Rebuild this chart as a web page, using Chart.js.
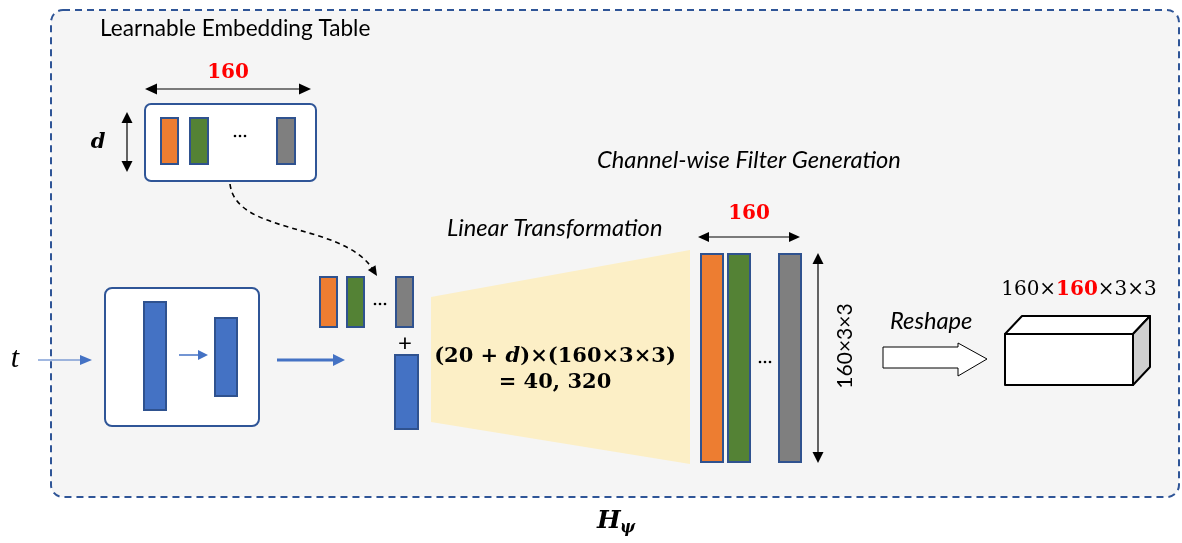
<!DOCTYPE html>
<html>
<head>
<meta charset="utf-8">
<script src="https://cdn.jsdelivr.net/npm/chart.js@4"></script>
<style>
  html, body { margin: 0; padding: 0; background: #ffffff; }
  #wrap { width: 1182px; height: 543px; }
</style>
</head>
<body>
<div id="wrap"><canvas id="diagram" width="1182" height="543"></canvas></div>
<script>
// Texts
const titleTable = 'Learnable Embedding Table';
const titleGen = 'Channel-wise Filter Generation';
const titleLinear = 'Linear Transformation';
const titleReshape = 'Reshape';
const channelCount = '160';
const kernelLabel = '160×3×3';
const formulaTop = [['(20 + ', 'b'], ['d', 'bi'], [')×(160×3×3)', 'b']];
const formulaBottom = '= 40, 320';

// Embedding columns (colour of each channel kept in the table)
const channelNames = ['ch1', 'ch2', '...', 'chN'];
const channelColors = ['#ed7d31', '#548235', null, '#7f7f7f'];

const blue = '#4472c4';
const navy = '#2f5597';
const edge = '#2f528f';

const serif = '"DejaVu Serif", "Liberation Serif", serif';
const sans = 'Lato, "Open Sans", sans-serif';

const diagramPlugin = {
  id: 'diagram',
  beforeDatasetsDraw(chart) {
    const ctx = chart.ctx;
    const sx = chart.scales.x, sy = chart.scales.y;
    const X = v => sx.getPixelForValue(v);
    const Y = v => sy.getPixelForValue(v);

    function rrect(x1, y1, x2, y2, r, fill, stroke, lw, dash) {
      ctx.save();
      ctx.beginPath();
      ctx.roundRect(X(x1), Y(y1), X(x2) - X(x1), Y(y2) - Y(y1), r);
      if (fill) { ctx.fillStyle = fill; ctx.fill(); }
      if (stroke) {
        ctx.setLineDash(dash || []);
        ctx.strokeStyle = stroke; ctx.lineWidth = lw || 1; ctx.stroke();
      }
      ctx.restore();
    }
    function col(x1, y1, x2, y2, fill) {
      rrect(x1, y1, x2, y2, 0, fill, edge, 2);
    }
    function head(x, y, ang, len, wid, color) {
      ctx.save();
      ctx.translate(X(x), Y(y));
      ctx.rotate(ang);
      ctx.beginPath();
      ctx.moveTo(0, 0);
      ctx.lineTo(-len, -wid / 2);
      ctx.lineTo(-len, wid / 2);
      ctx.closePath();
      ctx.fillStyle = color;
      ctx.fill();
      ctx.restore();
    }
    function arrow(x1, y1, x2, y2, color, lw, len, wid, both) {
      const ang = Math.atan2(Y(y2) - Y(y1), X(x2) - X(x1));
      ctx.save();
      ctx.strokeStyle = color; ctx.lineWidth = lw;
      ctx.beginPath();
      ctx.moveTo(X(x1) + (both ? Math.cos(ang) * len * 0.8 : 0), Y(y1) + (both ? Math.sin(ang) * len * 0.8 : 0));
      ctx.lineTo(X(x2) - Math.cos(ang) * len * 0.8, Y(y2) - Math.sin(ang) * len * 0.8);
      ctx.stroke();
      ctx.restore();
      head(x2, y2, ang, len, wid, color);
      if (both) head(x1, y1, ang + Math.PI, len, wid, color);
    }
    function text(str, x, y, font, color, align) {
      ctx.save();
      ctx.font = font; ctx.fillStyle = color || '#000';
      ctx.textAlign = align || 'left'; ctx.textBaseline = 'middle';
      ctx.fillText(str, X(x), Y(y));
      ctx.restore();
    }
    function runs(parts, cx, y, size) {
      ctx.save();
      ctx.textBaseline = 'middle';
      const fonts = parts.map(p => (p[1] === 'bi' ? 'italic bold ' : p[1] === 'b' ? 'bold ' : '') + size + 'px ' + serif);
      let total = 0;
      parts.forEach((p, i) => { ctx.font = fonts[i]; total += ctx.measureText(p[0]).width; });
      let x = X(cx) - total / 2;
      parts.forEach((p, i) => {
        ctx.font = fonts[i]; ctx.fillStyle = p[2] || '#000'; ctx.textAlign = 'left';
        ctx.fillText(p[0], x, Y(y));
        x += ctx.measureText(p[0]).width;
      });
      ctx.restore();
    }
    function dots(cx, cy) {
      ctx.save();
      ctx.fillStyle = '#000';
      [-5, 0, 5].forEach(d => {
        ctx.beginPath();
        ctx.arc(X(cx + d), Y(cy), 1.3, 0, Math.PI * 2);
        ctx.fill();
      });
      ctx.restore();
    }

    // outer dashed frame
    rrect(51, 10, 1179, 497, 12, '#f5f5f5', navy, 2, [7, 5]);

    // learnable embedding table
    text(titleTable, 100, 29, '22.6px ' + sans, '#000');
    text(channelCount, 228, 73, 'bold 20px ' + serif, '#ff0000', 'center');
    arrow(145, 89, 311, 89, '#000', 1.2, 12, 11, true);
    arrow(127, 112, 127, 172, '#000', 1.2, 11, 11, true);
    text('d', 98, 143, 'italic bold 21px ' + serif, '#000', 'center');
    rrect(145, 104, 316, 181, 6, '#ffffff', navy, 2);
    const tableCols = [[161, 178], [190, 208], null, [277, 295]];
    channelNames.forEach((n, i) => {
      if (channelColors[i]) col(tableCols[i][0], 118, tableCols[i][1], 164, channelColors[i]);
      else dots(240, 136);
    });

    // dashed lookup curve
    ctx.save();
    ctx.setLineDash([5, 4]);
    ctx.lineWidth = 1.6; ctx.strokeStyle = '#000';
    ctx.beginPath();
    ctx.moveTo(X(230), Y(184));
    ctx.bezierCurveTo(X(236), Y(235), X(340), Y(222), X(372), Y(268));
    ctx.stroke();
    ctx.restore();
    head(377, 276, Math.atan2(8, 5), 10, 9, '#000');

    // time input and encoder
    text('t', 15, 359, 'italic 30px "Liberation Serif", serif', '#000', 'center');
    arrow(38, 360, 92, 360, blue, 1.2, 12, 10);
    rrect(105, 288, 259, 426, 7, '#ffffff', navy, 2);
    col(144, 302, 166, 410, blue);
    col(215, 318, 237, 396, blue);
    arrow(179, 355, 208, 355, blue, 1.5, 10, 10);
    arrow(277, 360, 345, 360, blue, 3, 12, 12);

    // concatenated embedding
    const smallCols = [[320, 337], [347, 364], null, [396, 413]];
    channelNames.forEach((n, i) => {
      if (channelColors[i]) col(smallCols[i][0], 277, smallCols[i][1], 327, channelColors[i]);
      else dots(380, 304);
    });
    text('+', 405, 343, '24px ' + sans, '#000', 'center');
    col(395, 355, 418, 429, blue);

    // linear transformation
    text(titleGen, 597, 160, 'italic 23.7px ' + sans, '#000');
    text(titleLinear, 447, 228, 'italic 23.7px ' + sans, '#000');
    ctx.save();
    ctx.beginPath();
    ctx.moveTo(X(431), Y(297));
    ctx.lineTo(X(690), Y(250));
    ctx.lineTo(X(690), Y(464));
    ctx.lineTo(X(431), Y(422));
    ctx.closePath();
    ctx.fillStyle = '#fcefc6';
    ctx.fill();
    ctx.restore();
    runs(formulaTop, 555, 357, 21);
    runs([[formulaBottom, 'b']], 555, 383, 21);

    // generated filters
    text(channelCount, 749, 214, 'bold 20px ' + serif, '#ff0000', 'center');
    arrow(698, 237, 800, 237, '#000', 1.2, 11, 10, true);
    const bigCols = [[701, 723], [728, 750], null, [779, 801]];
    channelNames.forEach((n, i) => {
      if (channelColors[i]) col(bigCols[i][0], 254, bigCols[i][1], 462, channelColors[i]);
      else dots(765, 362);
    });
    arrow(818, 253, 818, 463, '#000', 1.2, 11, 11, true);
    ctx.save();
    ctx.translate(X(845), Y(346));
    ctx.rotate(-Math.PI / 2);
    ctx.font = '21px ' + sans; ctx.fillStyle = '#000';
    ctx.textAlign = 'center'; ctx.textBaseline = 'middle';
    ctx.fillText(kernelLabel, 0, 0);
    ctx.restore();

    // reshape arrow
    text(titleReshape, 890, 321, 'italic 23.7px ' + sans, '#000');
    ctx.save();
    ctx.beginPath();
    ctx.moveTo(X(883), Y(347));
    ctx.lineTo(X(958), Y(347));
    ctx.lineTo(X(958), Y(343));
    ctx.lineTo(X(987), Y(359));
    ctx.lineTo(X(958), Y(376));
    ctx.lineTo(X(958), Y(368));
    ctx.lineTo(X(883), Y(368));
    ctx.closePath();
    ctx.fillStyle = '#ffffff'; ctx.fill();
    ctx.strokeStyle = '#000'; ctx.lineWidth = 1; ctx.stroke();
    ctx.restore();

    // output tensor box
    function poly(pts, fill) {
      ctx.save();
      ctx.beginPath();
      pts.forEach((p, i) => (i ? ctx.lineTo(X(p[0]), Y(p[1])) : ctx.moveTo(X(p[0]), Y(p[1]))));
      ctx.closePath();
      ctx.fillStyle = fill; ctx.fill();
      ctx.strokeStyle = '#000'; ctx.lineWidth = 2; ctx.lineJoin = 'round'; ctx.stroke();
      ctx.restore();
    }
    poly([[1005, 334], [1022, 316], [1150, 316], [1133, 334]], '#ffffff');
    poly([[1133, 334], [1150, 316], [1150, 367], [1133, 385]], '#d0d0d0');
    poly([[1005, 334], [1133, 334], [1133, 385], [1005, 385]], '#ffffff');
    runs([['160×', ''], ['160', 'b', '#ff0000'], ['×3×3', '']], 1079, 290, 20);

    // module name
    ctx.save();
    ctx.font = 'italic bold 25px ' + serif; ctx.fillStyle = '#000';
    ctx.textBaseline = 'middle';
    ctx.fillText('H', X(597), Y(521));
    ctx.font = 'italic bold 16px ' + serif;
    ctx.fillText('ψ', X(620), Y(528));
    ctx.restore();
  }
};

new Chart(document.getElementById('diagram'), {
  type: 'scatter',
  data: { datasets: [{ data: [], showLine: false }] },
  options: {
    responsive: false,
    animation: false,
    layout: { padding: 0 },
    plugins: { legend: { display: false }, tooltip: { enabled: false } },
    scales: {
      x: { type: 'linear', min: 0, max: 1182, display: false },
      y: { type: 'linear', min: 0, max: 543, reverse: true, display: false }
    }
  },
  plugins: [diagramPlugin]
});
</script>
</body>
</html>
